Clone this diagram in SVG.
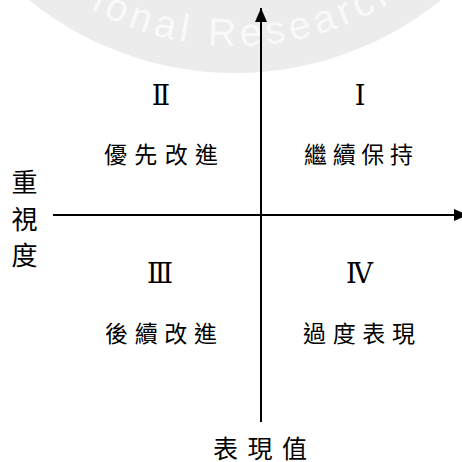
<svg xmlns="http://www.w3.org/2000/svg" width="462" height="462" viewBox="0 0 462 462">
  <style>
    .axis { stroke: #000; stroke-width: 2; fill: none; }
    .cjk { font-family: "Noto Sans CJK TC", "Noto Sans CJK SC", sans-serif; fill: #000; text-anchor: middle; }
    .quad { font-size: 23px; }
    .title { font-size: 25px; }
    .roman { font-family: "DejaVu Serif", "Noto Sans CJK TC", serif; font-size: 27px; fill: #000; text-anchor: middle; }
    .wm { font-family: "Liberation Sans", Arial, sans-serif; font-size: 39px; letter-spacing: 5px; fill: #f9f9f9; }
  </style>
  <defs>
    <marker id="arrow" viewBox="0 0 14 12" refX="14" refY="6" markerWidth="14" markerHeight="12" markerUnits="userSpaceOnUse" orient="auto">
      <path d="M0,0 L14,6 L0,12 Z" fill="#000"/>
    </marker>
    <path id="wmArc" d="M60,-10.3 A300,300 0 0 0 420,-17.8"/>
  </defs>
  <rect width="462" height="462" fill="#fff"/>
  <g id="watermark">
    <circle cx="235" cy="-254" r="327" fill="#ececec"/>
    <text class="wm"><textPath href="#wmArc" startOffset="36">ional Research</textPath></text>
  </g>
  <g id="connectors">
    <line class="axis" x1="261" y1="422" x2="261" y2="8" marker-end="url(#arrow)"/>
    <line class="axis" x1="53" y1="215" x2="468" y2="215" marker-end="url(#arrow)"/>
  </g>
  <g id="quadrant-1">
    <text class="roman" x="360" y="105">Ⅰ</text>
    <text class="cjk quad" x="315.5 344.2 372.8 401.5" y="163.2">繼續保持</text>
  </g>
  <g id="quadrant-2">
    <text class="roman" x="161" y="105">Ⅱ</text>
    <text class="cjk quad" x="115.5 145.8 176.2 206.5" y="163.2">優先改進</text>
  </g>
  <g id="quadrant-3">
    <text class="roman" x="160" y="283">Ⅲ</text>
    <text class="cjk quad" x="116.5 146.2 175.8 205.5" y="342.2">後續改進</text>
  </g>
  <g id="quadrant-4">
    <text class="roman" x="359.5" y="283">Ⅳ</text>
    <text class="cjk quad" x="314.5 344.2 373.8 403.5" y="342.2">過度表現</text>
  </g>
  <g id="y-label">
    <text class="cjk" style="font-size:26px" x="24.5" y="192.4">重</text>
    <text class="cjk" style="font-size:26px" x="24.5" y="229.4">視</text>
    <text class="cjk" style="font-size:26px" x="24.5" y="265.4">度</text>
  </g>
  <g id="x-label">
    <text class="cjk title" x="225.5 260 294.5" y="457.5">表現值</text>
  </g>
</svg>
